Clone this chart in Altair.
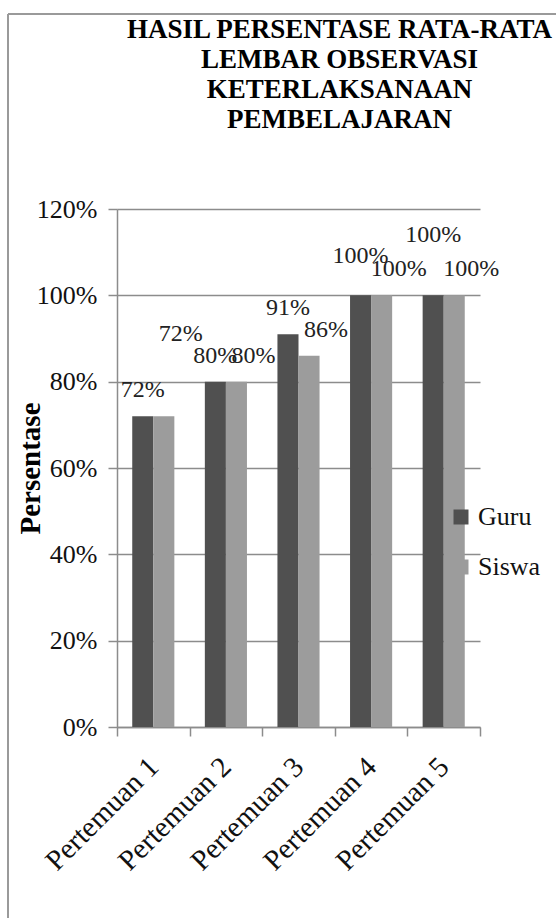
import altair as alt
import pandas as pd

categories = ["Pertemuan 1", "Pertemuan 2", "Pertemuan 3", "Pertemuan 4", "Pertemuan 5"]
series = ["Guru", "Siswa"]
guru_values = [0.72, 0.80, 0.91, 1.00, 1.00]
siswa_values = [0.72, 0.80, 0.86, 1.00, 1.00]
# where each data label sits (in axis units)
guru_label_at = [0.78, 0.86, 0.97, 1.09, 1.14]
siswa_label_at = [0.91, 0.86, 0.92, 1.06, 1.06]
y_ticks = [0, 0.2, 0.4, 0.6, 0.8, 1.0, 1.2]
title_lines = ["HASIL PERSENTASE RATA-RATA", "LEMBAR OBSERVASI", "KETERLAKSANAAN", "PEMBELAJARAN"]
y_title = "Persentase"

rows = []
for i, c in enumerate(categories):
    rows.append({"Pertemuan": c, "Seri": "Guru", "Nilai": guru_values[i], "Posisi": guru_label_at[i]})
    rows.append({"Pertemuan": c, "Seri": "Siswa", "Nilai": siswa_values[i], "Posisi": siswa_label_at[i]})
df = pd.DataFrame(rows)

SERIF = "Liberation Serif, Times New Roman, serif"
GRID = "#8c8c8c"

x_scale = alt.Scale(paddingInner=0, paddingOuter=0)
xo = alt.XOffset("Seri:N", sort=series, scale=alt.Scale(paddingInner=0, paddingOuter=0.724))
y_scale = alt.Scale(domain=[0, 1.2], nice=False, zero=True)

x_axis = alt.Axis(title=None, labelAngle=-45, labelAlign="right", labelBaseline="middle",
                  labelPadding=26, labelFontSize=29, labelFont=SERIF, labelColor="#111",
                  tickBand="extent", tickSize=9, tickColor=GRID, tickWidth=1.5,
                  domainColor=GRID, domainWidth=1.5, grid=False)
y_axis = alt.Axis(values=y_ticks, format=".0%", title=y_title, grid=True, gridColor=GRID,
                  gridWidth=1.5, domainColor=GRID, domainWidth=1.5, tickColor=GRID,
                  tickWidth=1.5, tickSize=9, labelPadding=11, labelFontSize=26,
                  labelFont=SERIF, labelColor="#111", titleFont=SERIF, titleFontSize=29,
                  titleFontWeight="bold", titleColor="#000", titleX=-87, titleY=259,
                  titleAlign="center", titleBaseline="middle", titleAngle=270)

bars = alt.Chart(df).mark_bar().encode(
    x=alt.X("Pertemuan:N", sort=categories, scale=x_scale, axis=x_axis),
    xOffset=xo,
    y=alt.Y("Nilai:Q", scale=y_scale, axis=y_axis),
    color=alt.Color("Seri:N", scale=alt.Scale(domain=series, range=["#505050", "#9c9c9c"]),
                    legend=alt.Legend(title=None, orient="none", legendX=331, legendY=295,
                                      symbolType="square", symbolSize=225, symbolStrokeWidth=0,
                                      labelFontSize=26, labelFont=SERIF, labelColor="#111",
                                      rowPadding=24, labelOffset=4)),
)

def labels(name, dx):
    return alt.Chart(df).transform_filter(alt.datum.Seri == name).mark_text(
        font=SERIF, fontSize=24, color="#222", align="center", baseline="middle", dx=dx
    ).encode(
        x=alt.X("Pertemuan:N", sort=categories, scale=x_scale, axis=x_axis),
        xOffset=xo,
        y=alt.Y("Posisi:Q", scale=y_scale, axis=y_axis),
        text=alt.Text("Nilai:Q", format=".0%"),
    )

frame_df = pd.DataFrame({"k": [0]})
frame_left = alt.Chart(frame_df).mark_rule(color="#9a9a9a", strokeWidth=2).encode(
    x=alt.value(-109), y=alt.value(-195), y2=alt.value(720))
frame_top = alt.Chart(frame_df).mark_rule(color="#9a9a9a", strokeWidth=2).encode(
    x=alt.value(-109), x2=alt.value(460), y=alt.value(-195))

chart = alt.layer(bars, labels("Guru", 0), labels("Siswa", 17), frame_left, frame_top).properties(
    width=363, height=518,
    background="white",
    autosize=alt.AutoSizeParams(type="none"),
    padding={"left": 117, "top": 209, "right": 76, "bottom": 191},
    title=alt.TitleParams(text=title_lines, font=SERIF, fontSize=27, fontWeight="bold",
                          color="#000", anchor="middle", dx=41, lineHeight=30, offset=-121),
).configure_view(stroke=None)

chart.save("out.html", embed_options={"renderer": "svg", "actions": False})
